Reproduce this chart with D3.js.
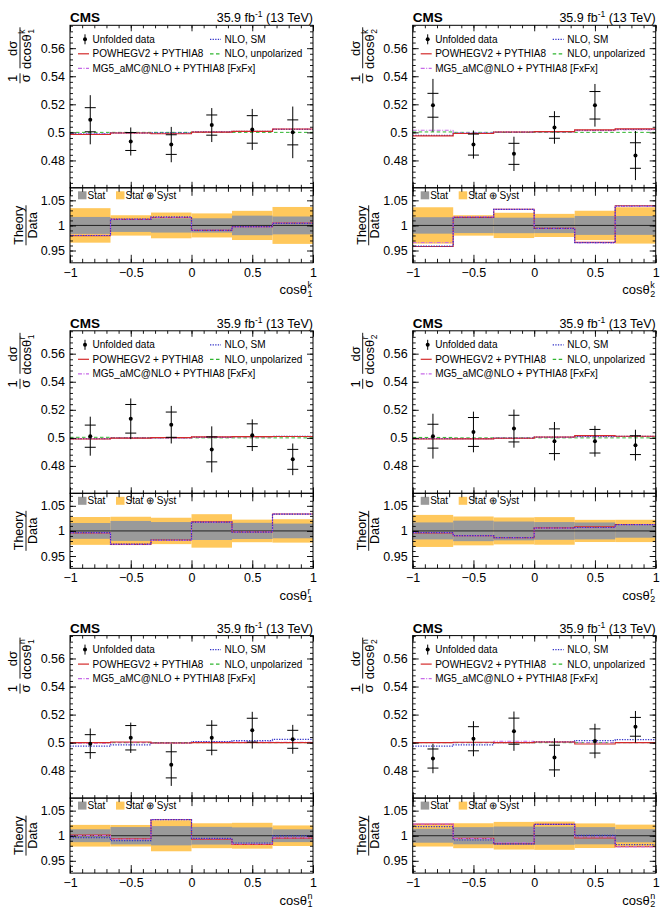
<!DOCTYPE html>
<html><head><meta charset="utf-8">
<script src="https://cdn.jsdelivr.net/npm/d3@7"></script>
<style>
body{margin:0;background:#fff}
svg{font-family:"Liberation Sans",Arial,Helvetica,sans-serif}
</style>
</head><body>
<svg id="c" width="663" height="908"></svg>
<script>
// ---------- data ----------
const binEdges = [-1, -2/3, -1/3, 0, 1/3, 2/3, 1];
const xTicks = [-1, -0.5, 0, 0.5, 1];
const yTicks = [0.48, 0.5, 0.52, 0.54, 0.56];
const ratioTicks = [0.95, 1, 1.05];
const axisSub = ["1", "2", "1", "2", "1", "2"];
const axisSup = ["k", "k", "r", "r", "n", "n"];
const legendLabels = ["Unfolded data", "POWHEGV2 + PYTHIA8", "MG5_aMC@NLO + PYTHIA8 [FxFx]", "NLO, SM", "NLO, unpolarized"];
const ratioLegend = ["Stat", "Stat \u2295 Syst"];

// cos theta_1^k
const dataK1 = [0.5090, 0.4935, 0.4913, 0.5052, 0.5021, 0.5000];
const statK1 = [0.0086, 0.0064, 0.0070, 0.0072, 0.0098, 0.0089];
const totK1  = [0.0175, 0.0100, 0.0126, 0.0121, 0.0146, 0.0184];
const powK1  = [0.4985, 0.4995, 0.4990, 0.5002, 0.5007, 0.5024];
const smK1   = [0.4988, 0.4997, 0.4996, 0.5003, 0.5008, 0.5021];
const unpK1  = [0.5000, 0.5000, 0.5000, 0.5000, 0.5000, 0.5000];
const mgK1   = [0.4990, 0.4995, 0.4992, 0.5003, 0.5006, 0.5023];
// cos theta_2^k
const dataK2 = [0.5193, 0.4913, 0.4847, 0.5035, 0.5193, 0.4835];
const statK2 = [0.0085, 0.0075, 0.0075, 0.0077, 0.0098, 0.0091];
const totK2  = [0.0188, 0.0100, 0.0122, 0.0116, 0.0152, 0.0175];
const powK2  = [0.4975, 0.4992, 0.5003, 0.5005, 0.5018, 0.5025];
const smK2   = [0.4979, 0.4993, 0.5002, 0.5005, 0.5015, 0.5022];
const unpK2  = [0.5003, 0.5000, 0.5000, 0.5000, 0.5000, 0.5000];
const mgK2   = [0.5015, 0.4997, 0.5002, 0.5003, 0.5012, 0.5018];
// cos theta_1^r
const dataR1 = [0.5012, 0.5136, 0.5094, 0.4918, 0.5019, 0.4847];
const statR1 = [0.0079, 0.0102, 0.0090, 0.0089, 0.0081, 0.0071];
const totR1  = [0.0139, 0.0145, 0.0134, 0.0164, 0.0113, 0.0113];
const powR1  = [0.4992, 0.4998, 0.5002, 0.5007, 0.5009, 0.5010];
const smR1   = [0.4995, 0.5000, 0.5002, 0.5005, 0.5008, 0.5010];
const unpR1  = [0.5004, 0.5000, 0.5000, 0.5000, 0.5000, 0.5000];
const mgR1   = [0.4993, 0.4998, 0.4998, 0.5003, 0.5008, 0.5010];
// cos theta_2^r
const dataR2 = [0.5012, 0.5042, 0.5066, 0.4976, 0.4976, 0.4948];
const statR2 = [0.0085, 0.0103, 0.0095, 0.0088, 0.0084, 0.0067];
const totR2  = [0.0160, 0.0145, 0.0136, 0.0137, 0.0110, 0.0110];
const powR2  = [0.4992, 0.4993, 0.4997, 0.5006, 0.5016, 0.5012];
const smR2   = [0.4995, 0.4995, 0.4998, 0.5005, 0.5010, 0.5010];
const unpR2  = [0.5003, 0.5000, 0.5000, 0.5000, 0.5000, 0.5000];
const mgR2   = [0.4995, 0.4993, 0.4998, 0.5004, 0.5008, 0.5010];
// cos theta_1^n
const dataN1 = [0.4993, 0.5035, 0.4842, 0.5035, 0.5089, 0.5024];
const statN1 = [0.0064, 0.0087, 0.0093, 0.0089, 0.0085, 0.0064];
const totN1  = [0.0108, 0.0108, 0.0150, 0.0125, 0.0131, 0.0103];
const powN1  = [0.5000, 0.5005, 0.4998, 0.5000, 0.5000, 0.5000];
const smN1   = [0.4975, 0.4985, 0.4998, 0.5008, 0.5015, 0.5023];
const unpN1  = [0.5000, 0.5000, 0.5000, 0.5000, 0.5000, 0.5000];
const mgN1   = [0.4995, 0.5000, 0.4997, 0.5005, 0.5005, 0.5003];
// cos theta_2^n
const dataN2 = [0.4887, 0.5028, 0.5082, 0.4894, 0.5012, 0.5113];
const statN2 = [0.0068, 0.0086, 0.0093, 0.0088, 0.0086, 0.0067];
const totN2  = [0.0105, 0.0125, 0.0140, 0.0138, 0.0123, 0.0113];
const powN2  = [0.5000, 0.5003, 0.5000, 0.5005, 0.4990, 0.5000];
const smN2   = [0.4975, 0.4985, 0.5000, 0.5005, 0.5015, 0.5022];
const unpN2  = [0.5000, 0.5000, 0.5000, 0.5000, 0.5000, 0.5000];
const mgN2   = [0.5000, 0.5000, 0.5010, 0.5005, 0.5000, 0.5000];

const panels = [
  {data: dataK1, stat: statK1, tot: totK1, pow: powK1, sm: smK1, unp: unpK1, mg: mgK1},
  {data: dataK2, stat: statK2, tot: totK2, pow: powK2, sm: smK2, unp: unpK2, mg: mgK2},
  {data: dataR1, stat: statR1, tot: totR1, pow: powR1, sm: smR1, unp: unpR1, mg: mgR1},
  {data: dataR2, stat: statR2, tot: totR2, pow: powR2, sm: smR2, unp: unpR2, mg: mgR2},
  {data: dataN1, stat: statN1, tot: totN1, pow: powN1, sm: smN1, unp: unpN1, mg: mgN1},
  {data: dataN2, stat: statN2, tot: totN2, pow: powN2, sm: smN2, unp: unpN2, mg: mgN2}
];

// ---------- layout / style ----------
const colLeft = [70, 412.7];
const rowTop = [25.3, 330.8, 635.6];
const W = 243, topH = 162.5, ratH = 75;
const C = {pow: "#d42a2a", sm: "#3434c8", unp: "#2fb52f", mg: "#c76ae8", stat: "#9a9a9a", tot: "#ffc85c"};
const styles = {
  unp: {color: C.unp, dash: "3.5,2.5", w: 1},
  mg:  {color: C.mg, dash: "4,1.5,1,1.5", w: 1},
  sm:  {color: C.sm, dash: "1.3,1.3", w: 1.2},
  pow: {color: C.pow, dash: null, w: 1.1}
};

const svg = d3.select("#c");
const line = d3.line();

function stepPts(vals, x, y) {
  return vals.flatMap((v, i) => [[x(binEdges[i]), y(v)], [x(binEdges[i + 1]), y(v)]]);
}

function ticksOn(g, scale, orient, major, minor, len, mlen, pos, labels, pad) {
  const mk = {left: d3.axisLeft, right: d3.axisRight, top: d3.axisTop, bottom: d3.axisBottom}[orient];
  const tr = (orient === "left" || orient === "right") ? `translate(${pos},0)` : `translate(0,${pos})`;
  const a1 = g.append("g").attr("transform", tr)
    .call(mk(scale).tickValues(minor).tickSize(-mlen).tickFormat(""));
  a1.select(".domain").remove();
  const a2 = g.append("g").attr("transform", tr)
    .call(mk(scale).tickValues(major).tickSize(-len).tickPadding(pad || 3)
      .tickFormat(labels ? d3.format("") : ""));
  a2.select(".domain").remove();
  [a1, a2].forEach(a => a.selectAll(".tick line").attr("stroke", "#000").attr("stroke-width", 0.9));
  a2.selectAll("text").attr("font-size", 12.5).attr("fill", "#000")
    .attr("font-family", '"Liberation Sans",Arial,sans-serif');
  return a2;
}

const xMinor = d3.range(-1, 1.0001, 0.1).map(v => +v.toFixed(2));
const yMinor = d3.range(0.464, 0.5761, 0.004).map(v => +v.toFixed(3));
const rMinor = d3.range(0.93, 1.0701, 0.01).map(v => +v.toFixed(2));

panels.forEach((p, idx) => {
  const col = idx % 2, row = Math.floor(idx / 2);
  const L = colLeft[col], T = rowTop[row];
  const TR = T + topH, B = TR + ratH;
  const g = svg.append("g");
  const x = d3.scaleLinear([-1, 1], [L, L + W]);
  const y = d3.scaleLinear([0.4605, 0.5763], [TR, T]);
  const yr = d3.scaleLinear([0.9255, 1.075], [B, TR]);

  g.append("clipPath").attr("id", "ct" + idx).append("rect").attr("x", L).attr("y", T).attr("width", W).attr("height", topH);
  g.append("clipPath").attr("id", "cr" + idx).append("rect").attr("x", L).attr("y", TR).attr("width", W).attr("height", ratH);

  // ---- top pad ----
  const gt = g.append("g").attr("clip-path", `url(#ct${idx})`);
  ["unp", "mg", "sm", "pow"].forEach(k => {
    const s = styles[k];
    gt.append("path").attr("d", line(stepPts(p[k], x, y))).attr("fill", "none")
      .attr("stroke", s.color).attr("stroke-width", s.w).attr("stroke-dasharray", s.dash);
  });
  p.data.forEach((v, i) => {
    const cx = x((binEdges[i] + binEdges[i + 1]) / 2);
    gt.append("line").attr("x1", cx).attr("x2", cx).attr("y1", y(v + p.tot[i])).attr("y2", y(v - p.tot[i]))
      .attr("stroke", "#000").attr("stroke-width", 1);
    [v + p.stat[i], v - p.stat[i]].forEach(e => {
      gt.append("line").attr("x1", cx - 5.5).attr("x2", cx + 5.5).attr("y1", y(e)).attr("y2", y(e))
        .attr("stroke", "#000").attr("stroke-width", 1);
    });
    gt.append("circle").attr("cx", cx).attr("cy", y(v)).attr("r", 2).attr("fill", "#000");
  });

  // legend
  const lg = g.append("g").attr("font-size", 10);
  const ly = [T + 14, T + 28.5, T + 43];
  lg.append("line").attr("x1", L + 15).attr("x2", L + 15).attr("y1", ly[0] - 5).attr("y2", ly[0] + 5).attr("stroke", "#000");
  lg.append("circle").attr("cx", L + 15).attr("cy", ly[0]).attr("r", 2).attr("fill", "#000");
  lg.append("text").attr("x", L + 22.5).attr("y", ly[0] + 3.5).attr("fill", "#000").text(legendLabels[0]);
  [["pow", 1, L + 8, ly[1]], ["mg", 2, L + 8, ly[2]], ["sm", 3, L + 140, ly[0]], ["unp", 4, L + 140, ly[1]]].forEach(([k, li, lx, yy]) => {
    const s = styles[k];
    lg.append("path").attr("d", line([[lx, yy], [lx + 11, yy]])).attr("fill", "none")
      .attr("stroke", s.color).attr("stroke-width", 1.2).attr("stroke-dasharray", s.dash);
    lg.append("text").attr("x", lx + 14.5).attr("y", yy + 3.5).attr("fill", "#000").text(legendLabels[li]);
  });

  ticksOn(g, y, "left", yTicks, yMinor, 6, 3, L, true, 5);
  ticksOn(g, y, "right", yTicks, yMinor, 6, 3, L + W, false);
  ticksOn(g, x, "bottom", xTicks, xMinor, 6, 3, TR, false);
  ticksOn(g, x, "top", xTicks, xMinor, 6, 3, T, false);
  g.append("rect").attr("x", L).attr("y", T).attr("width", W).attr("height", topH)
    .attr("fill", "none").attr("stroke", "#000").attr("stroke-width", 1);

  // ---- ratio pad ----
  const gr = g.append("g").attr("clip-path", `url(#cr${idx})`);
  p.data.forEach((v, i) => {
    const x0 = x(binEdges[i]), x1 = x(binEdges[i + 1]);
    const t = p.tot[i] / v;
    gr.append("rect").attr("x", x0).attr("width", x1 - x0).attr("y", yr(1 + t)).attr("height", yr(1 - t) - yr(1 + t)).attr("fill", C.tot);
  });
  p.data.forEach((v, i) => {
    const x0 = x(binEdges[i]), x1 = x(binEdges[i + 1]);
    const s = p.stat[i] / v;
    gr.append("rect").attr("x", x0).attr("width", x1 - x0).attr("y", yr(1 + s)).attr("height", yr(1 - s) - yr(1 + s)).attr("fill", C.stat);
  });
  gr.append("line").attr("x1", L).attr("x2", L + W).attr("y1", yr(1)).attr("y2", yr(1)).attr("stroke", "#222").attr("stroke-width", 1);
  ["pow", "mg", "sm"].forEach(k => {
    const s = styles[k];
    const rv = p[k].map((t, i) => t / p.data[i]);
    gr.append("path").attr("d", line(stepPts(rv, x, yr))).attr("fill", "none")
      .attr("stroke", s.color).attr("stroke-width", s.w).attr("stroke-dasharray", s.dash);
  });
  const rl = g.append("g").attr("font-size", 10);
  rl.append("rect").attr("x", L + 8).attr("y", TR + 3.5).attr("width", 8.5).attr("height", 8).attr("fill", C.stat);
  rl.append("text").attr("x", L + 17.5).attr("y", TR + 11).attr("fill", "#000").text(ratioLegend[0]);
  rl.append("rect").attr("x", L + 46).attr("y", TR + 3.5).attr("width", 8.5).attr("height", 8).attr("fill", C.tot);
  rl.append("text").attr("x", L + 55.5).attr("y", TR + 11).attr("fill", "#000").text(ratioLegend[1]);

  ticksOn(g, yr, "left", ratioTicks, rMinor, 6, 3, L, true, 5);
  ticksOn(g, yr, "right", ratioTicks, rMinor, 6, 3, L + W, false);
  ticksOn(g, x, "bottom", xTicks, xMinor, 8, 4, B, true, 5);
  ticksOn(g, x, "top", xTicks, xMinor, 8, 4, TR, false);
  g.append("rect").attr("x", L).attr("y", TR).attr("width", W).attr("height", ratH)
    .attr("fill", "none").attr("stroke", "#000").attr("stroke-width", 1);

  // ---- labels ----
  g.append("text").attr("x", L).attr("y", T - 3).attr("font-size", 13.5).attr("font-weight", "bold").text("CMS");
  const lum = g.append("text").attr("x", L + W).attr("y", T - 3).attr("font-size", 12.5).attr("text-anchor", "end");
  lum.append("tspan").text("35.9 fb");
  lum.append("tspan").attr("font-size", 8.5).attr("dy", -5).text("-1");
  lum.append("tspan").attr("dy", 5).text(" (13 TeV)");

  const xt = g.append("g").attr("font-size", 13);
  const xe = L + W - 6;
  xt.append("text").attr("x", xe).attr("y", B + 31.5).attr("text-anchor", "end").text("cos\u03b8");
  xt.append("text").attr("x", xe + 0.5).attr("y", B + 25.5).attr("font-size", 9).text(axisSup[idx]);
  xt.append("text").attr("x", xe + 0.5).attr("y", B + 34).attr("font-size", 9).text(axisSub[idx]);

  const yt = g.append("g").attr("transform", `translate(${L - 50},${T + 58}) rotate(-90)`).attr("font-size", 13);
  yt.append("text").attr("x", 5).attr("y", -3).attr("text-anchor", "middle").text("1");
  yt.append("line").attr("x1", 0).attr("x2", 10).attr("y1", 0).attr("y2", 0).attr("stroke", "#000").attr("stroke-width", 0.9);
  yt.append("text").attr("x", 5).attr("y", 10).attr("text-anchor", "middle").text("\u03c3");
  yt.append("text").attr("x", 35).attr("y", -3).attr("text-anchor", "middle").text("d\u03c3");
  yt.append("line").attr("x1", 15).attr("x2", 56).attr("y1", 0).attr("y2", 0).attr("stroke", "#000").attr("stroke-width", 0.9);
  yt.append("text").attr("x", 49).attr("y", 11).attr("text-anchor", "end").text("dcos\u03b8");
  yt.append("text").attr("x", 49.5).attr("y", 5).attr("font-size", 8.5).text(axisSup[idx]);
  yt.append("text").attr("x", 49.5).attr("y", 14).attr("font-size", 8.5).text(axisSub[idx]);

  const rt = g.append("g").attr("transform", `translate(${L - 44},${TR + ratH / 2}) rotate(-90)`).attr("font-size", 12.5);
  rt.append("text").attr("x", 0).attr("y", -3).attr("text-anchor", "middle").text("Theory");
  rt.append("line").attr("x1", -20).attr("x2", 20).attr("y1", 0).attr("y2", 0).attr("stroke", "#000").attr("stroke-width", 0.9);
  rt.append("text").attr("x", 0).attr("y", 10.5).attr("text-anchor", "middle").text("Data");
});
</script>
</body></html>
